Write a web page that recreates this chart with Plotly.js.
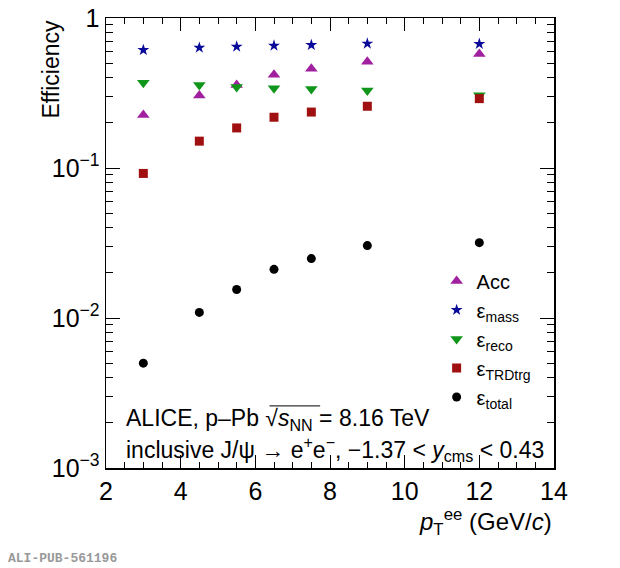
<!DOCTYPE html>
<html>
    <head>
        <script src="https://cdn.plot.ly/plotly-3.0.1.min.js"></script>
        <style>body{margin:0;background:#fff;}</style>
    </head>
    <body>
        <div id="plot" style="width:620px;height:568px;"></div>
        <script type="text/javascript">
            var pt = [3, 4.5, 5.5, 6.5, 7.5, 9, 12];
            var acc = [0.226, 0.304, 0.358, 0.418, 0.458, 0.510, 0.576];
            var effMass = [0.612, 0.634, 0.644, 0.654, 0.661, 0.675, 0.672];
            var effReco = [0.370, 0.357, 0.347, 0.340, 0.336, 0.328, 0.306];
            var effTrd = [0.092, 0.151, 0.185, 0.218, 0.236, 0.258, 0.290];
            var effTotal = [0.0050, 0.0109, 0.0155, 0.0211, 0.0249, 0.0304, 0.0318];

            var yTickVals = [0.001, 0.01, 0.1, 1];
            var yTickText = ['10<sup>\u22123</sup>', '10<sup>\u22122</sup>', '10<sup>\u22121</sup>', '1'];
            var yMinor = [];
            [0.001, 0.01, 0.1].forEach(function(d) {
                for (var k = 2; k <= 9; k++) yMinor.push(d * k);
            });

            var font = 'Liberation Sans, Arial, sans-serif';

            function series(y, name, symbol, color, size) {
                return {x: pt, y: y, name: name, mode: 'markers', type: 'scatter',
                        marker: {symbol: symbol, color: color, size: size}};
            }

            var data = [
                series(acc, 'Acc', 'triangle-up', '#a0209f', 11),
                series(effMass, '\u03b5<sub>mass</sub>', 'star', '#0a0a9a', 9),
                series(effReco, '\u03b5<sub>reco</sub>', 'triangle-down', '#10961a', 11),
                series(effTrd, '\u03b5<sub>TRDtrg</sub>', 'square', '#a01010', 9),
                series(effTotal, '\u03b5<sub>total</sub>', 'circle', '#000000', 9)
            ];

            var layout = {
                width: 620, height: 568,
                margin: {l: 106, r: 66, t: 18, b: 100},
                paper_bgcolor: '#fff', plot_bgcolor: '#fff',
                font: {family: font, color: '#000', size: 24},
                showlegend: true,
                legend: {x: 0.738, y: 0.459, xanchor: 'left', yanchor: 'top',
                         bgcolor: 'rgba(0,0,0,0)', font: {size: 20},
                         itemsizing: 'trace', tracegroupgap: 0, itemwidth: 30},
                xaxis: {range: [2, 14], showgrid: false, zeroline: false,
                        showline: true, linecolor: '#000', linewidth: 1.5, mirror: 'ticks',
                        ticks: 'inside', ticklen: 13, tickwidth: 1, tickcolor: '#000',
                        tickvals: [2, 4, 6, 8, 10, 12, 14],
                        minor: {ticks: 'inside', ticklen: 6, tickcolor: '#000', dtick: 0.5, showgrid: false},
                        tickfont: {size: 25}},
                yaxis: {type: 'log', range: [-3, 0], showgrid: false, zeroline: false,
                        showline: true, linecolor: '#000', linewidth: 1.5, mirror: 'ticks',
                        ticks: 'inside', ticklen: 14, tickwidth: 1, tickcolor: '#000',
                        tickvals: yTickVals, ticktext: yTickText,
                        minor: {ticks: 'inside', ticklen: 7, tickcolor: '#000', tickvals: yMinor, showgrid: false},
                        tickfont: {size: 25}},
                shapes: [
                    // overline of the square root
                    {type: 'line', xref: 'paper', yref: 'paper', x0: 0.365, x1: 0.478, y0: 0.138, y1: 0.138,
                     line: {color: '#000', width: 1}}
                ],
                annotations: [
                    {text: 'Efficiency', xref: 'paper', yref: 'paper', x: -0.125, y: 1,
                     xanchor: 'center', yanchor: 'top', textangle: -90, showarrow: false,
                     font: {size: 23}},
                    {text: '<i>p</i><sub>T</sub><sup>ee</sup> (GeV/<i>c</i>)', xref: 'paper', yref: 'paper',
                     x: 1, y: -0.078, xanchor: 'right', yanchor: 'top', showarrow: false,
                     font: {size: 24}},
                    {text: 'ALICE, p\u2013Pb \u221a<i>s</i><sub>NN</sub> = 8.16 TeV', xref: 'paper', yref: 'paper',
                     x: 0.04, y: 0.108, xanchor: 'left', yanchor: 'middle', showarrow: false,
                     font: {size: 23}},
                    {text: 'inclusive J/\u03c8 \u2192 e<sup>+</sup>e<sup>\u2212</sup>, \u22121.37 < <i>y</i><sub>cms</sub> < 0.43',
                     xref: 'paper', yref: 'paper', x: 0.04, y: 0.043, xanchor: 'left', yanchor: 'middle',
                     showarrow: false, font: {size: 23}},
                    {text: '<b>ALI-PUB-561196</b>', xref: 'paper', yref: 'paper', x: -0.224, y: -0.2,
                     xanchor: 'left', yanchor: 'middle', showarrow: false,
                     font: {family: 'Liberation Mono, Courier New, monospace', size: 13, color: '#999'}}
                ]
            };

            Plotly.newPlot('plot', data, layout, {displayModeBar: false, staticPlot: true});
        </script>
    </body>
</html>
